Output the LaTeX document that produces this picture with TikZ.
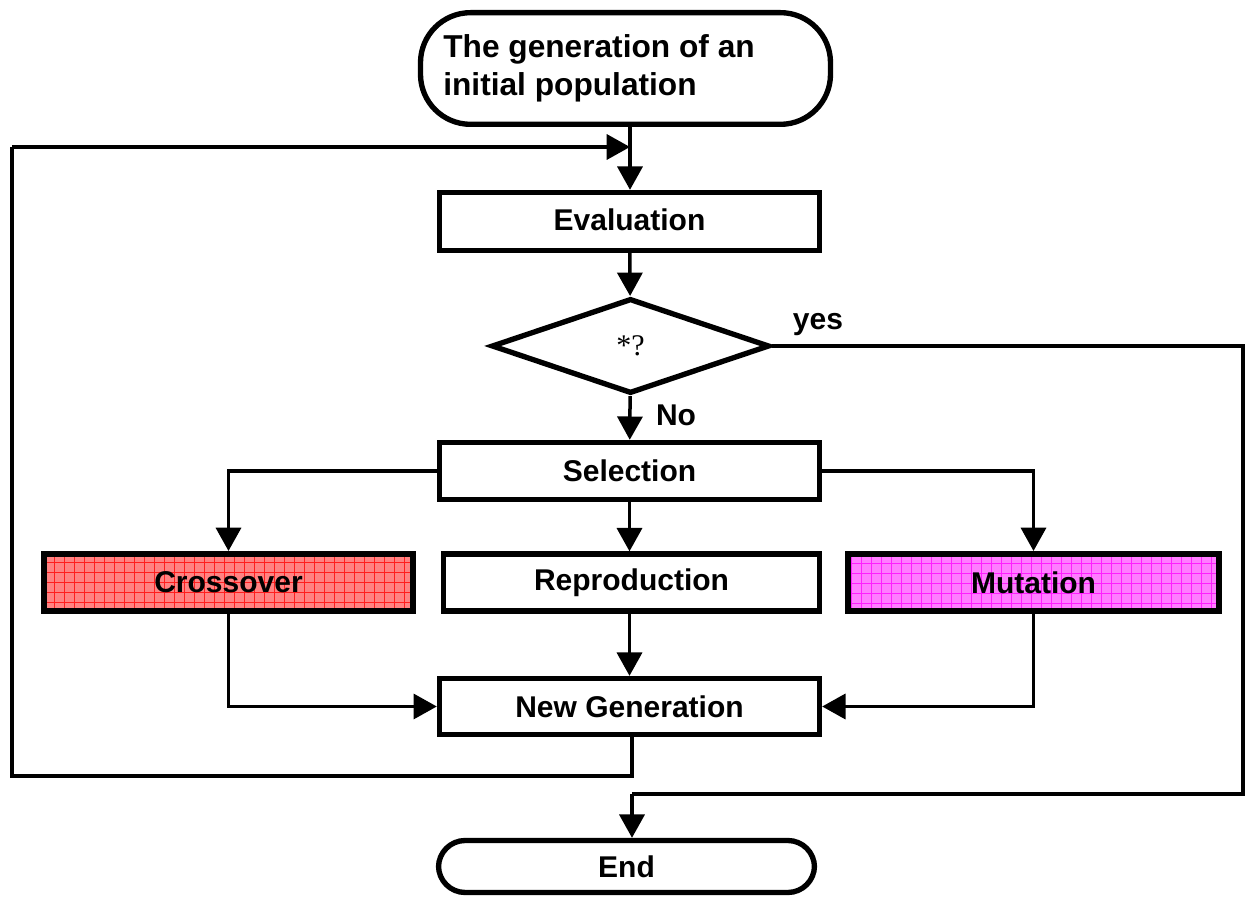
\documentclass[tikz,border=0pt]{standalone}
\usepackage{fontspec}
\setmainfont{Liberation Sans}
\newfontfamily\serifq{Liberation Serif}
\usetikzlibrary{shapes.geometric,shapes.misc,arrows.meta}
\definecolor{redfill}{RGB}{255,130,130}
\definecolor{redgrid}{RGB}{255,30,30}
\definecolor{magfill}{RGB}{255,125,255}
\definecolor{maggrid}{RGB}{255,30,255}
\begin{document}
\begin{tikzpicture}[x=0.6pt,y=-0.6pt,
  box/.style={draw,line width=3.2pt,rectangle,inner sep=0pt,font=\fontsize{18}{22}\selectfont\bfseries},
  term/.style={draw,line width=3.2pt,rounded corners=16pt,inner sep=0pt,font=\fontsize{18}{22}\selectfont\bfseries},
  conn/.style={line width=2.1pt},
  arr/.style={conn,-{Triangle[length=14pt,width=15pt]}},
  lbl/.style={font=\fontsize{18}{22}\selectfont\bfseries,inner sep=0pt},
  gridred/.style={fill=redfill,path picture={\draw[step=6pt,line width=0.5pt,redgrid] (path picture bounding box.south west) grid (path picture bounding box.north east);}},
  gridmag/.style={fill=magfill,path picture={\draw[step=6pt,line width=0.5pt,maggrid] (path picture bounding box.south west) grid (path picture bounding box.north east);}}
]
\useasboundingbox (0,0) rectangle (1250,897);

\node[draw,line width=3.2pt,rounded corners=30pt,minimum width=246pt,minimum height=67pt,inner sep=0pt] (start) at (625.5,68.5) {};
\node[anchor=west,align=left,inner sep=0pt,font=\fontsize{19}{22.8}\selectfont\bfseries] (starttxt) at (443,68) {The generation of an\\initial population};

\node[box,minimum width=228pt,minimum height=34.8pt] (eval) at (629.5,221.5) {\raisebox{2pt}{Evaluation}};
\node[draw,line width=3.2pt,diamond,inner sep=0pt,minimum width=166.8pt,minimum height=57pt,font=\serifq\fontsize{18}{22}\selectfont] (dec) at (630.5,346) {*?};
\node[box,minimum width=228pt,minimum height=34.2pt] (sel) at (629.5,471) {Selection};
\node[box,line width=3.6pt,gridred,minimum width=221.4pt,minimum height=34.2pt] (cross) at (228.5,582.5) {Crossover};
\node[box,minimum width=225.6pt,minimum height=34.2pt] (repro) at (631.5,582.5) {Reproduction};
\node[box,line width=3.6pt,gridmag,minimum width=222.6pt,minimum height=34.2pt] (mut) at (1033.5,582.5) {Mutation};
\node[box,minimum width=228pt,minimum height=33.6pt] (newgen) at (629.5,706.5) {New Generation};
\node[term,minimum width=225.6pt,minimum height=31.2pt] (end) at (626.5,866.5) {End};

\node[lbl] (yes) at (818,325) {yes};
\node[lbl] (no) at (676,415) {No};

\coordinate (lbot) at (12,776);
\coordinate (ltop) at (12,147);
\coordinate (join) at (630,147);
\coordinate (rtop) at (1243,346);
\coordinate (rbot) at (1243,794);

\draw[arr] (start.south -| join) -- (eval.north -| join);
\draw[conn] (newgen.south -| 632,0) -- (632,776) -- (lbot) -- (ltop);
\draw[arr] (ltop) -- (join);
\draw[arr] (eval) -- (dec);
\draw[arr] (dec) -- (sel);
\draw[conn] (dec.east) -- (rtop) -- (rbot) -- (632,794);
\draw[arr] (632,794) -- (end.north -| 632,0);
\draw[arr] (sel.west) -| (cross.north);
\draw[arr] (sel.south) -- (sel.south |- repro.north);
\draw[arr] (sel.east) -| (mut.north);
\draw[arr] (cross.south) |- (newgen.west);
\draw[arr] (repro.south -| newgen) -- (newgen);
\draw[arr] (mut.south) |- (newgen.east);
\end{tikzpicture}
\end{document}
